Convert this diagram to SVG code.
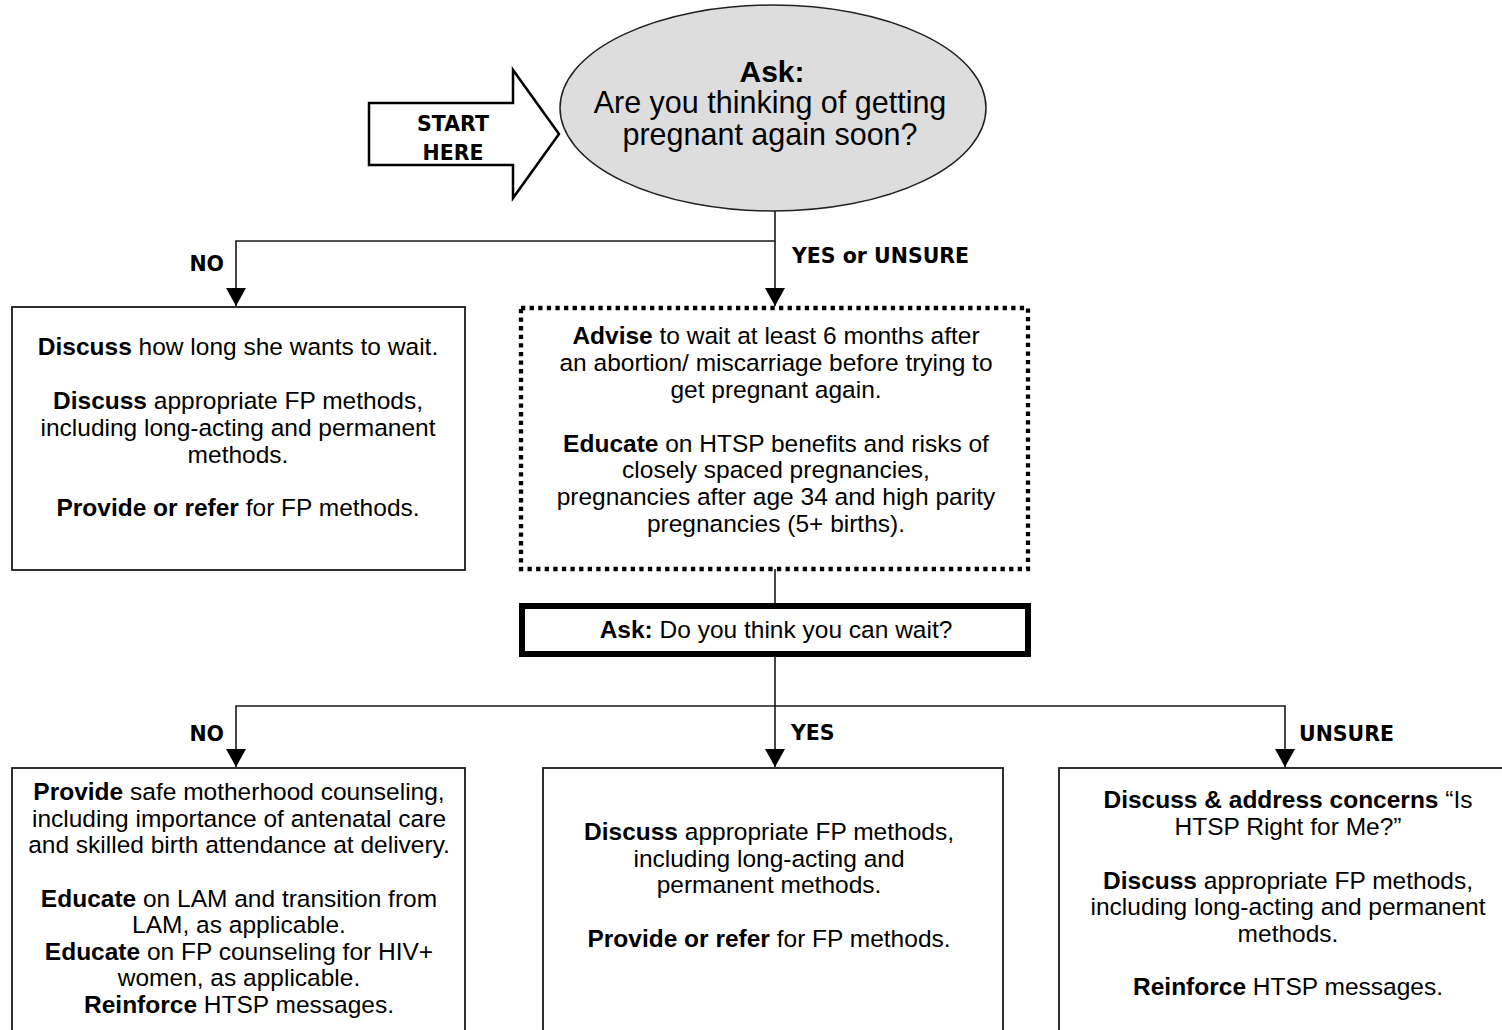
<svg xmlns="http://www.w3.org/2000/svg" width="1502" height="1030" viewBox="0 0 1502 1030">
<defs>
<style>
.body{font-family:"Liberation Sans",Arial,sans-serif;font-size:24.5px;fill:#000;text-anchor:middle}
.b{font-weight:bold}
.lbl{font-family:"DejaVu Sans",Verdana,sans-serif;font-size:20.5px;font-weight:bold;fill:#000}
.box{fill:#fff;stroke:#1a1a1a;stroke-width:1.8}
.conn{fill:none;stroke:#1a1a1a;stroke-width:1.6}
</style>
<marker id="ah" viewBox="0 0 18 20" refX="18" refY="10" markerWidth="18" markerHeight="20" markerUnits="userSpaceOnUse" orient="auto">
<path d="M0,0 L18,10 L0,20 Z" fill="#000"/>
</marker>
</defs>
<rect width="1502" height="1030" fill="#fff"/>

<g id="connectors">
<path class="conn" d="M775,210 V241 H236 V306" marker-end="url(#ah)"/>
<path class="conn" d="M775,241 V306" marker-end="url(#ah)"/>
<path class="conn" d="M775,569 V603"/>
<path class="conn" d="M775,657 V706 H236 V767" marker-end="url(#ah)"/>
<path class="conn" d="M775,706 V767" marker-end="url(#ah)"/>
<path class="conn" d="M775,706 H1285 V767" marker-end="url(#ah)"/>
<text class="lbl" x="224" y="271" text-anchor="end">NO</text>
<text class="lbl" x="792" y="263">YES or UNSURE</text>
<text class="lbl" x="224" y="741" text-anchor="end">NO</text>
<text class="lbl" x="791" y="740">YES</text>
<text class="lbl" x="1299" y="741">UNSURE</text>
</g>

<g id="start">
<polygon points="369,103 513,103 513,70 559,134 513,198 513,165 369,165" fill="#fff" stroke="#000" stroke-width="2.5" stroke-linejoin="miter"/>
<text class="lbl" x="453" y="131" text-anchor="middle">START</text>
<text class="lbl" x="453" y="160" text-anchor="middle">HERE</text>
</g>

<g id="q1">
<ellipse cx="773" cy="108" rx="213" ry="103" fill="#dddddd" stroke="#222" stroke-width="1.5"/>
<text class="body b" x="772" y="82" style="font-size:30px">Ask:</text>
<text class="body" x="770" y="113" style="font-size:30.5px">Are you thinking of getting</text>
<text class="body" x="770" y="145" style="font-size:30.5px">pregnant again soon?</text>
</g>

<g id="no1">
<rect class="box" x="12" y="307" width="453" height="263"/>
<text class="body" x="238" y="355"><tspan class="b">Discuss</tspan> how long she wants to wait.</text>
<text class="body" x="238" y="409"><tspan class="b">Discuss</tspan> appropriate FP methods,</text>
<text class="body" x="238" y="436">including long-acting and permanent</text>
<text class="body" x="238" y="463">methods.</text>
<text class="body" x="238" y="516"><tspan class="b">Provide or refer</tspan> for FP methods.</text>
</g>

<g id="advise">
<rect x="521" y="308" width="507" height="261" fill="#fff" stroke="#000" stroke-width="4.3" stroke-dasharray="4.3 4.3"/>
<text class="body" x="776" y="344"><tspan class="b">Advise</tspan> to wait at least 6 months after</text>
<text class="body" x="776" y="371">an abortion/ miscarriage before trying to</text>
<text class="body" x="776" y="398">get pregnant again.</text>
<text class="body" x="776" y="452"><tspan class="b">Educate</tspan> on HTSP benefits and risks of</text>
<text class="body" x="776" y="478">closely spaced pregnancies,</text>
<text class="body" x="776" y="505">pregnancies after age 34 and high parity</text>
<text class="body" x="776" y="532">pregnancies (5+ births).</text>
</g>

<g id="q2">
<rect x="522" y="606" width="506" height="48" fill="#fff" stroke="#000" stroke-width="6"/>
<text class="body" x="776" y="638"><tspan class="b">Ask:</tspan> Do you think you can wait?</text>
</g>

<g id="no2">
<rect class="box" x="12" y="768" width="453" height="280"/>
<text class="body" x="239" y="800"><tspan class="b">Provide</tspan> safe motherhood counseling,</text>
<text class="body" x="239" y="827">including importance of antenatal care</text>
<text class="body" x="239" y="853">and skilled birth attendance at delivery.</text>
<text class="body" x="239" y="907"><tspan class="b">Educate</tspan> on LAM and transition from</text>
<text class="body" x="239" y="933">LAM, as applicable.</text>
<text class="body" x="239" y="960"><tspan class="b">Educate</tspan> on FP counseling for HIV+</text>
<text class="body" x="239" y="986">women, as applicable.</text>
<text class="body" x="239" y="1013"><tspan class="b">Reinforce</tspan> HTSP messages.</text>
</g>

<g id="yes2">
<rect class="box" x="543" y="768" width="460" height="280"/>
<text class="body" x="769" y="840"><tspan class="b">Discuss</tspan> appropriate FP methods,</text>
<text class="body" x="769" y="867">including long-acting and</text>
<text class="body" x="769" y="893">permanent methods.</text>
<text class="body" x="769" y="947"><tspan class="b">Provide or refer</tspan> for FP methods.</text>
</g>

<g id="unsure2">
<rect class="box" x="1059" y="768" width="460" height="280"/>
<text class="body" x="1288" y="808"><tspan class="b">Discuss &amp; address concerns</tspan> “Is</text>
<text class="body" x="1288" y="835">HTSP Right for Me?”</text>
<text class="body" x="1288" y="889"><tspan class="b">Discuss</tspan> appropriate FP methods,</text>
<text class="body" x="1288" y="915">including long-acting and permanent</text>
<text class="body" x="1288" y="942">methods.</text>
<text class="body" x="1288" y="995"><tspan class="b">Reinforce</tspan> HTSP messages.</text>
</g>
</svg>
